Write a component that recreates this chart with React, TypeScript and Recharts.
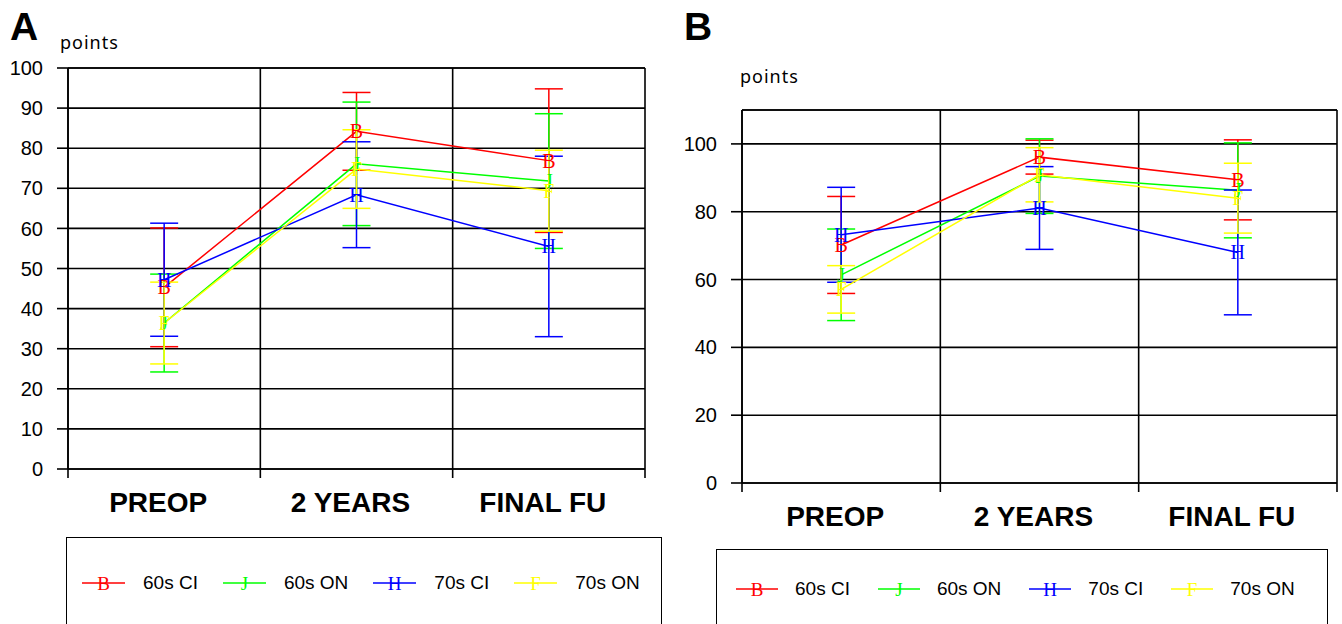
import { CartesianGrid, ErrorBar, Line, LineChart, ReferenceLine, XAxis, YAxis } from "recharts";

const CATEGORIES = ["PREOP", "2 YEARS", "FINAL FU"];
const CATEGORY_X = [0.5, 1.5, 2.5];
const BOUNDARY_TICKS = [0, 1, 2, 3];

// panel A (0-100 points)
const A_60S_CI = [45.3, 84.2, 76.9];
const A_60S_CI_SD = [14.8, 9.7, 17.9];
const A_60S_ON = [36.4, 76.1, 71.8];
const A_60S_ON_SD = [12.2, 15.4, 16.8];
const A_70S_CI = [47.2, 68.4, 55.5];
const A_70S_CI_SD = [14.1, 13.2, 22.5];
const A_70S_ON = [36.4, 74.8, 69.4];
const A_70S_ON_SD = [10.2, 9.8, 10.1];
const A_Y_TICKS = [0, 10, 20, 30, 40, 50, 60, 70, 80, 90, 100];

// panel B
const B_60S_CI = [70.2, 96.1, 89.4];
const B_60S_CI_SD = [14.3, 5, 11.8];
const B_60S_ON = [61.4, 90.5, 86.3];
const B_60S_ON_SD = [13.5, 11, 14];
const B_70S_CI = [73.2, 81.1, 68.0];
const B_70S_CI_SD = [14, 12.2, 18.4];
const B_70S_ON = [57.1, 90.9, 84.0];
const B_70S_ON_SD = [7, 8, 10.3];
const B_Y_TICKS = [0, 20, 40, 60, 80, 100];

const SERIES = [
  { key: "ci60", name: "60s CI", color: "#FF0000", letter: "B" },
  { key: "on60", name: "60s ON", color: "#00FF00", letter: "J" },
  { key: "ci70", name: "70s CI", color: "#0000FF", letter: "H" },
  { key: "on70", name: "70s ON", color: "#FFFF00", letter: "F" },
];

const SANS = "'Liberation Sans', Arial, sans-serif";
const SERIF = "'Liberation Serif', 'DejaVu Serif', serif";

function buildRows(values: number[][], sds: number[][]) {
  return CATEGORY_X.map((x, i) => {
    const row: Record<string, number | string> = { x, category: CATEGORIES[i] };
    SERIES.forEach((s, j) => {
      row[s.key] = values[j][i];
      row[s.key + "Sd"] = sds[j][i];
    });
    return row;
  });
}

const dataA = buildRows(
  [A_60S_CI, A_60S_ON, A_70S_CI, A_70S_ON],
  [A_60S_CI_SD, A_60S_ON_SD, A_70S_CI_SD, A_70S_ON_SD]
);
const dataB = buildRows(
  [B_60S_CI, B_60S_ON, B_70S_CI, B_70S_ON],
  [B_60S_CI_SD, B_60S_ON_SD, B_70S_CI_SD, B_70S_ON_SD]
);

const letterDot = (color: string, letter: string) => (props: any) => {
  const { cx, cy, index } = props;
  if (cx == null || cy == null) return <g key={`${letter}-${index}`} />;
  return (
    <text
      key={`${letter}-${index}`}
      x={cx}
      y={cy + 7}
      textAnchor="middle"
      fill={color}
      fontFamily={SERIF}
      fontSize={20}
    >
      {letter}
    </text>
  );
};

type PanelProps = {
  data: Record<string, number | string>[];
  yMax: number;
  yTicks: number[];
  left: number;
  width: number;
  height: number;
  top: number;
  right: number;
  yWidth: number;
};

function Panel({ data, yMax, yTicks, left, width, height, top, right, yWidth }: PanelProps) {
  return (
    <div style={{ position: "absolute", left, top: 0 }}>
      <LineChart width={width} height={height} data={data} margin={{ top, right, bottom: 0, left: 0 }}>
        <CartesianGrid stroke="#000" strokeWidth={1.6} />
        <XAxis
          type="number"
          dataKey="x"
          domain={[0, 3]}
          ticks={BOUNDARY_TICKS}
          tickFormatter={() => ""}
          tickSize={9}
          height={12}
          axisLine={{ stroke: "#000", strokeWidth: 1.6 }}
          tickLine={{ stroke: "#000", strokeWidth: 1.6 }}
        />
        <XAxis
          xAxisId="labels"
          type="number"
          dataKey="x"
          domain={[0, 3]}
          ticks={CATEGORY_X}
          tickFormatter={(v: number) => CATEGORIES[Math.floor(v)]}
          axisLine={false}
          tickLine={false}
          tickSize={0}
          tickMargin={11}
          height={44}
          tick={{ fill: "#000", fontSize: 28, fontWeight: "bold", fontFamily: SANS, dx: -6 }}
        />
        <YAxis
          type="number"
          domain={[0, yMax]}
          ticks={yTicks}
          width={yWidth}
          tickSize={11}
          tickMargin={14}
          axisLine={{ stroke: "#000", strokeWidth: 1.6 }}
          tickLine={{ stroke: "#000", strokeWidth: 1.6 }}
          tick={{ fill: "#000", fontSize: 20, fontFamily: SANS }}
        />
        <ReferenceLine y={yMax} stroke="#000" strokeWidth={1.6} />
        {SERIES.map((s) => (
          <Line
            key={s.key}
            dataKey={s.key}
            stroke={s.color}
            strokeWidth={1.5}
            dot={letterDot(s.color, s.letter)}
            activeDot={false}
            isAnimationActive={false}
          >
            <ErrorBar dataKey={s.key + "Sd"} width={14} stroke={s.color} strokeWidth={1.5} direction="y" />
          </Line>
        ))}
      </LineChart>
    </div>
  );
}

type LegendProps = {
  left: number;
  top: number;
  width: number;
  padLeft: number;
  rowTop: number;
  lineWidth: number;
  textGap: number;
  itemGap: number;
};

function LegendBox({ left, top, width, padLeft, rowTop, lineWidth, textGap, itemGap }: LegendProps) {
  return (
    <div
      style={{
        position: "absolute",
        left,
        top,
        width,
        height: 120,
        border: "1.5px solid #000",
        boxSizing: "border-box",
        background: "#fff",
      }}
    >
      <div
        style={{
          position: "absolute",
          left: padLeft,
          top: rowTop,
          display: "flex",
          alignItems: "center",
          height: 24,
          fontFamily: SANS,
          fontSize: 19,
          color: "#000",
          whiteSpace: "nowrap",
        }}
      >
        {SERIES.map((s) => (
          <div key={s.key} style={{ display: "flex", alignItems: "center", marginRight: itemGap }}>
            <svg width={lineWidth} height={24} style={{ marginRight: textGap }}>
              <line x1={0} x2={lineWidth} y1={12} y2={12} stroke={s.color} strokeWidth={1.5} />
              <text x={lineWidth / 2} y={19} textAnchor="middle" fill={s.color} fontFamily={SERIF} fontSize={19}>
                {s.letter}
              </text>
            </svg>
            <span>{s.name}</span>
          </div>
        ))}
      </div>
    </div>
  );
}

export default function App() {
  return (
    <div
      style={{
        position: "absolute",
        left: 0,
        top: 0,
        width: 1342,
        height: 624,
        overflow: "hidden",
        background: "#fff",
      }}
    >
      <div style={{ position: "absolute", left: 10, top: 7, fontFamily: SANS, fontWeight: "bold", fontSize: 39, lineHeight: 1 }}>
        A
      </div>
      <div style={{ position: "absolute", left: 60, top: 33, fontFamily: "'Noto Sans', sans-serif", fontSize: 18, letterSpacing: 1, lineHeight: 1 }}>
        points
      </div>
      <div style={{ position: "absolute", left: 684, top: 7, fontFamily: SANS, fontWeight: "bold", fontSize: 39, lineHeight: 1 }}>
        B
      </div>
      <div style={{ position: "absolute", left: 740, top: 67, fontFamily: "'Noto Sans', sans-serif", fontSize: 18, letterSpacing: 1, lineHeight: 1 }}>
        points
      </div>

      <Panel data={dataA} yMax={100} yTicks={A_Y_TICKS} left={0} width={660} height={525} top={68} right={15} yWidth={68} />
      <Panel data={dataB} yMax={110} yTicks={B_Y_TICKS} left={672} width={670} height={539} top={110} right={5} yWidth={70} />

      <LegendBox left={66} top={537} width={596} padLeft={15} rowTop={33} lineWidth={43} textGap={18} itemGap={25} />
      <LegendBox left={716} top={549} width={612} padLeft={19} rowTop={27} lineWidth={42} textGap={17} itemGap={28} />
    </div>
  );
}
